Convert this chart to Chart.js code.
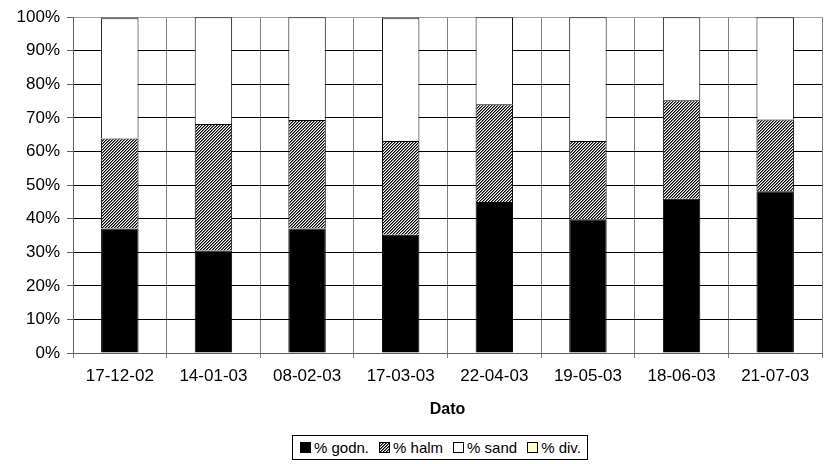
<!DOCTYPE html>
<html>
<head>
<meta charset="utf-8">
<script src="https://cdn.jsdelivr.net/npm/chart.js@4.4.0/dist/chart.umd.min.js"></script>
<style>
  html, body { margin: 0; padding: 0; background: #fff; }
  #wrap { position: relative; width: 824px; height: 464px; font-family: "Liberation Sans", Arial, sans-serif; }
  #legend {
    position: absolute; left: 292px; top: 435px; height: 23px;
    border: 1px solid #000; padding: 0 6px 0 7px;
    display: flex; align-items: center; font-size: 15px; color: #000; background: #fff;
  }
  #legend .item { display: flex; align-items: center; margin-right: 10px; white-space: pre; }
  #legend .item:last-child { margin-right: 0; }
  #legend .sw { width: 9px; height: 9px; border: 1px solid #000; margin-right: 3px; }
</style>
</head>
<body>
<div id="wrap">
  <canvas id="chart" width="824" height="464"></canvas>
  <div id="legend"></div>
</div>
<script>
// kategorier (prøvedatoer)
var dates = ['17-12-02', '14-01-03', '08-02-03', '17-03-03', '22-04-03', '19-05-03', '18-06-03', '21-07-03'];

// andele i procent
var godn = [37.1, 30.5, 37.1, 35.2, 45.0, 39.8, 45.9, 48.2];
var halm = [26.8, 37.7, 32.3, 27.9, 29.1, 23.3, 29.4, 21.3];
var sand = [35.8, 31.8, 30.6, 36.6, 25.9, 36.9, 24.7, 30.5];
var div  = [0.3, 0, 0, 0.3, 0, 0, 0, 0];

var yTicks = [0, 10, 20, 30, 40, 50, 60, 70, 80, 90, 100];

// fint skraveret mønster til halm
function hatch() {
  var c = document.createElement('canvas');
  c.width = 3; c.height = 3;
  var g = c.getContext('2d');
  g.fillStyle = '#fff';
  g.fillRect(0, 0, 3, 3);
  for (var x = 0; x < 3; x++) {
    for (var y = 0; y < 3; y++) {
      var k = (x + y) % 3;
      if (k === 2) { g.fillStyle = '#000'; g.fillRect(x, y, 1, 1); }
      if (k === 0) { g.fillStyle = '#777'; g.fillRect(x, y, 1, 1); }
    }
  }
  return c;
}
var hatchCanvas = hatch();
var ctx = document.getElementById('chart').getContext('2d');
var halmFill = ctx.createPattern(hatchCanvas, 'repeat');

var series = [
  { label: '% godn.', data: godn, fill: '#000000' },
  { label: '% halm', data: halm, fill: halmFill },
  { label: '% sand', data: sand, fill: '#ffffff' },
  { label: '% div.', data: div, fill: '#ffffcc' }
];

Chart.defaults.font.family = '"Liberation Sans", Arial, sans-serif';
Chart.defaults.color = '#000';

var chart = new Chart(ctx, {
  type: 'bar',
  data: {
    labels: dates,
    datasets: series.map(function (s) {
      return {
        label: s.label,
        data: s.data,
        backgroundColor: s.fill,
        borderColor: '#000',
        borderWidth: 1,
        categoryPercentage: 0.8,
        barPercentage: 0.5
      };
    })
  },
  options: {
    responsive: false,
    animation: false,
    devicePixelRatio: 1,
    layout: { padding: { left: 0, right: 2, top: 16, bottom: 39 } },
    plugins: {
      legend: { display: false },
      tooltip: { enabled: false }
    },
    scales: {
      x: {
        stacked: true,
        grid: { offset: true, color: '#808080', lineWidth: 1, tickLength: 5, tickColor: '#808080' },
        border: { color: '#606060' },
        ticks: { font: { size: 17 }, color: '#000', padding: 8, maxRotation: 0 },
        title: { display: true, text: 'Dato', font: { size: 16, weight: 'bold' }, color: '#000', padding: { top: 4, bottom: 6 } },
        afterFit: function (scale) { scale.height = 72; }
      },
      y: {
        stacked: true,
        min: 0,
        max: 100,
        afterBuildTicks: function (scale) {
          scale.ticks = yTicks.map(function (v) { return { value: v }; });
        },
        ticks: {
          font: { size: 17 }, color: '#000', padding: 7,
          callback: function (v) { return v + '%'; }
        },
        grid: {
          tickLength: 6,
          tickColor: '#606060',
          color: function (c) { return (c.tick && c.tick.value === 100) ? '#a0a0a0' : '#000'; }
        },
        border: { color: '#606060' },
        afterFit: function (scale) { scale.width = 73; }
      }
    }
  }
});

// forklaring under figuren
var legend = document.getElementById('legend');
series.forEach(function (s, i) {
  var item = document.createElement('div');
  item.className = 'item';
  var sw = document.createElement('span');
  sw.className = 'sw';
  if (i === 1) {
    sw.style.backgroundImage = 'url(' + hatchCanvas.toDataURL() + ')';
  } else {
    sw.style.background = s.fill;
  }
  var t = document.createElement('span');
  t.textContent = s.label;
  item.appendChild(sw);
  item.appendChild(t);
  legend.appendChild(item);
});
</script>
</body>
</html>
